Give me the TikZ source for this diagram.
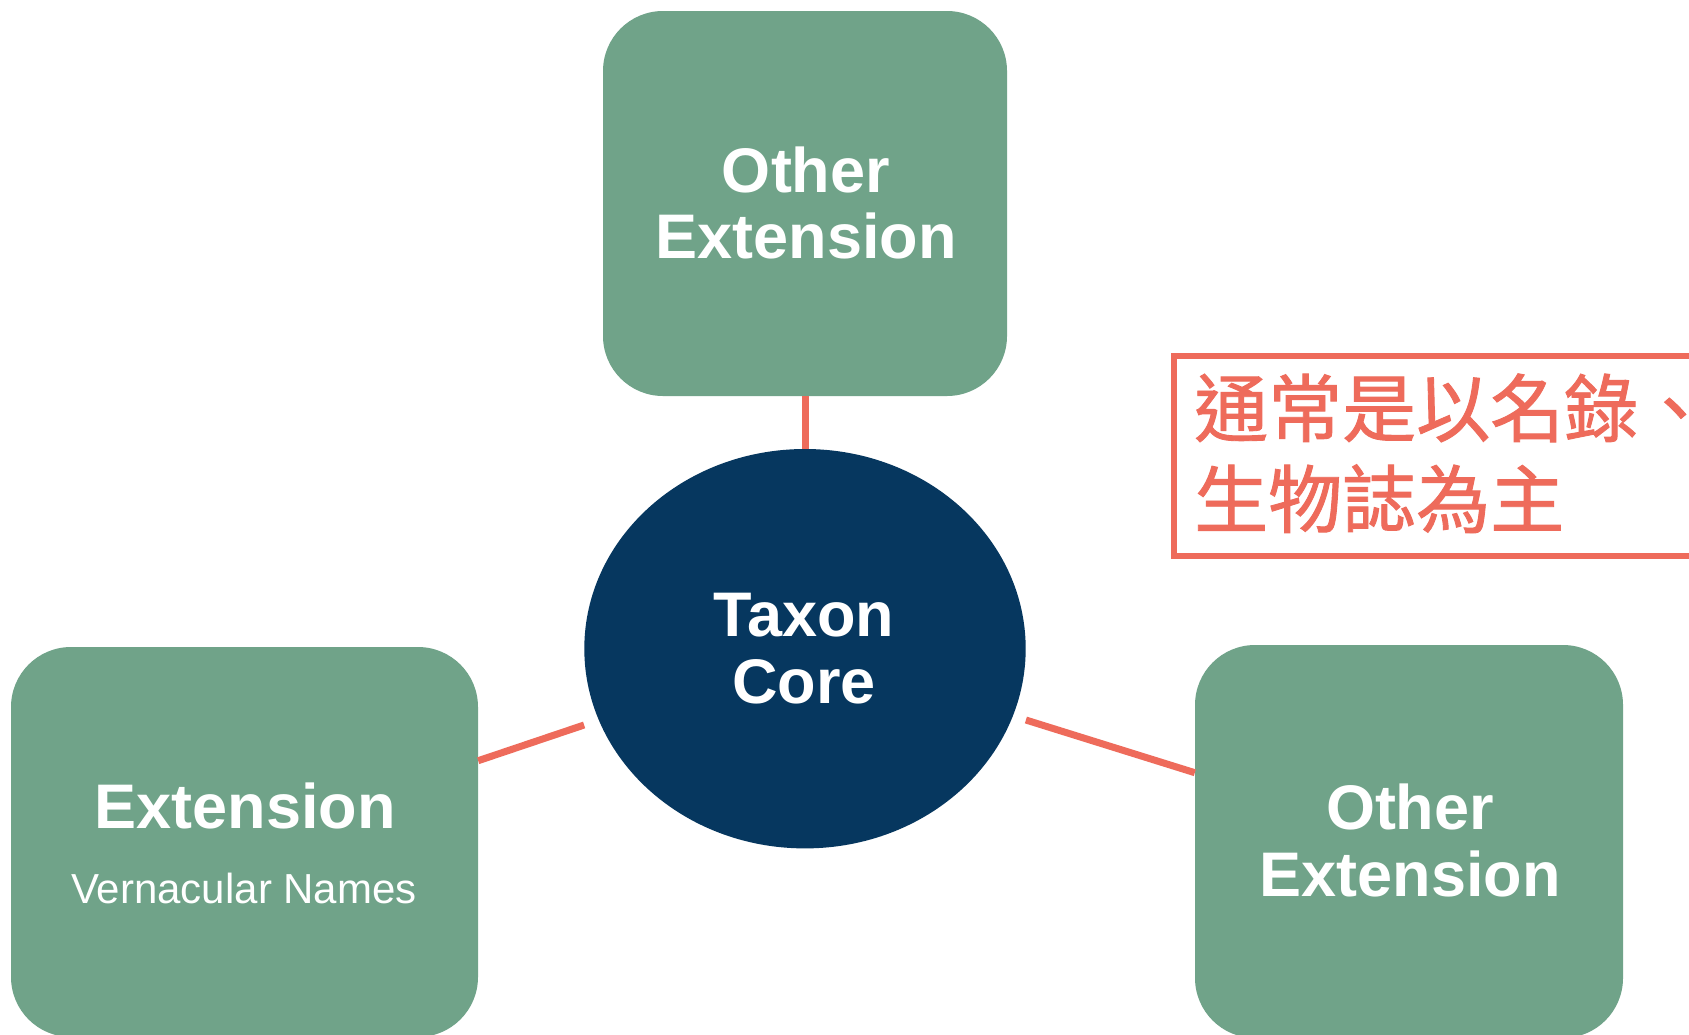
\documentclass[tikz,border=0pt]{standalone}
\usepackage{fontspec}
\setmainfont{Liberation Sans}
\newfontfamily\cjk[FakeBold=1.2]{Noto Sans CJK TC}
\usetikzlibrary{shapes.geometric}
\definecolor{extgreen}{HTML}{70A389}
\definecolor{corenavy}{HTML}{06375F}
\definecolor{linkred}{HTML}{EE6B5B}
\tikzset{
  extbox/.style={rectangle, rounded corners=60pt, fill=extgreen, draw=none, inner sep=0pt},
  corebox/.style={ellipse, fill=corenavy, draw=none, inner sep=0pt, minimum width=441.4pt, minimum height=399.4pt},
  bigtxt/.style={text=white, font=\bfseries\fontsize{63}{67}\selectfont, anchor=base, inner sep=0pt},
  smalltxt/.style={text=white, font=\fontsize{42}{48}\selectfont, anchor=base, inner sep=0pt},
  link/.style={draw=linkred, line width=7pt},
  notebox/.style={draw=linkred, line width=5.5pt},
  notetxt/.style={text=linkred, font=\cjk\fontsize{74}{91}\selectfont, anchor=base west, inner sep=0pt}
}
\begin{document}
\begin{tikzpicture}[x=1pt, y=-1pt]
\useasboundingbox (0,0) rectangle (1689,1034);
\clip (0,0) rectangle (1689,1034);
\fill[white] (0,0) rectangle (1689,1034);
% boxes
\node[extbox, minimum width=404pt, minimum height=385pt] (top) at (805,203.5) {};
\node[extbox, minimum width=467pt, minimum height=390pt] (lbox) at (244.5,842) {};
\node[extbox, minimum width=428pt, minimum height=393pt] (rbox) at (1409,841.5) {};
\node[corebox] (core) at (805,648.7) {};
% connectors
\draw[link] (top.south) -- (core.north);
\draw[link] (lbox.east |- 0,760.7) -- (core.west |- 0,725);
\draw[link] (core.east |- 0,720) -- (rbox.west |- 0,772.7);
% labels
\node[bigtxt] (t1) at (806,192) {Other};
\node[bigtxt] (t2) at (806,258) {Extension};
\node[bigtxt] (l1) at (245,828) {Extension};
\node[smalltxt] (l2) at (244,903) {Vernacular Names};
\node[bigtxt] (r1) at (1410,829) {Other};
\node[bigtxt] (r2) at (1410,896) {Extension};
\node[bigtxt] (c1) at (804,636) {Taxon};
\node[bigtxt] (c2) at (804,703) {Core};
% note
\draw[notebox] (1173.8,356) rectangle (1720,556);
\node[notetxt] (n1) at (1194,436) {通常是以名錄、};
\node[notetxt] (n2) at (1194,527) {生物誌為主};
\end{tikzpicture}
\end{document}
